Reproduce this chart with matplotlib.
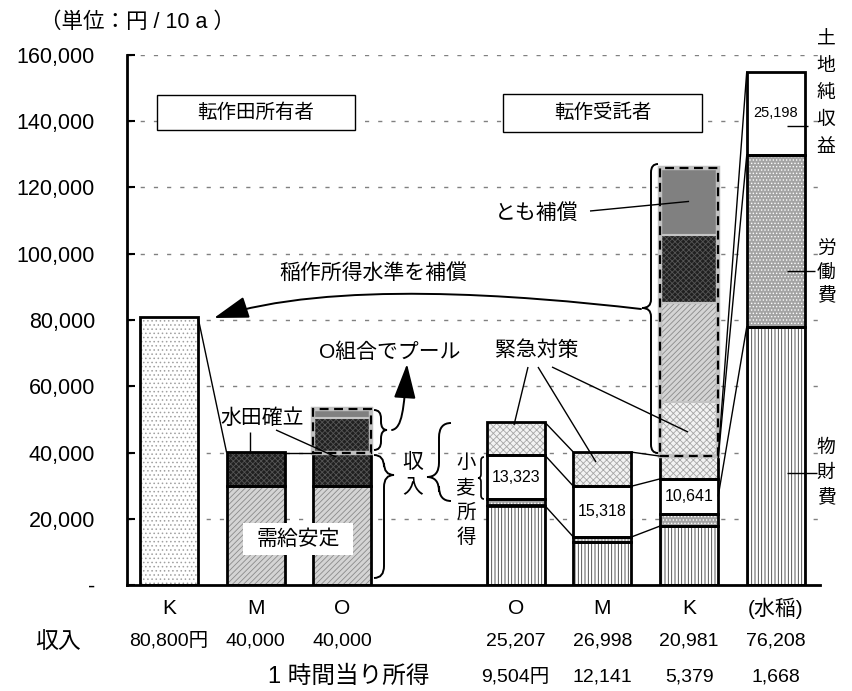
import matplotlib
matplotlib.use('Agg')
import matplotlib.pyplot as plt
from matplotlib.patches import Rectangle, FancyArrowPatch, PathPatch
from matplotlib.path import Path

plt.rcParams['font.family'] = ['Liberation Sans', 'Noto Sans CJK JP', 'DejaVu Sans']
plt.rcParams['hatch.linewidth'] = 0.6

# ---------------- data ----------------
categories = ['K', 'M', 'O', 'O', 'M', 'K', '(水稲)']
positions = [0, 1, 2, 4, 5, 6, 7]
income_labels = ['80,800円', '40,000', '40,000', '25,207', '26,998', '20,981', '76,208']
hourly_labels = ['9,504円', '12,141', '5,379', '1,668']
yticks = [0, 20000, 40000, 60000, 80000, 100000, 120000, 140000, 160000]
ytick_labels = ['-', '20,000', '40,000', '60,000', '80,000', '100,000', '120,000', '140,000', '160,000']

# 転作田所有者 (K, M, O)
owner_rice_level = [80800, 0, 0]
owner_jukyu = [0, 30000, 30000]
owner_suiden = [0, 10000, 10000]
pool_owner_suiden = 10500     # O組合でプール
pool_owner_tomo = 2500

# 転作受託者 (O, M, K) and 水稲
bussai = [24000, 13000, 17800, 77900]
roudou = [1900, 1500, 3600, 51900]
komugi = [13323, 15318, 10641, 0]
land = [0, 0, 0, 25198]
kinkyu = [9950, 10300, 6860, 0]
komugi_labels = ['13,323', '15,318', '10,641']
land_label = '25,198'
# amounts pooled to K (受託者)
pool_kinkyu = 16300
pool_jukyu = 30000
pool_suiden = 20500
pool_tomo = 20200

# ---------------- figure ----------------
W, H = 853, 691
fig = plt.figure(figsize=(W / 100, H / 100), dpi=100)
AX_L, AX_R, AX_T, AX_B = 127, 820, 55, 585
ax = fig.add_axes([AX_L / W, 1 - AX_B / H, (AX_R - AX_L) / W, (AX_B - AX_T) / H])
XMIN, XMAX = -0.484, 7.51
YMAX = 160000
ax.set_xlim(XMIN, XMAX)
ax.set_ylim(0, YMAX)

ov = fig.add_axes([0, 0, 1, 1])
ov.set_xlim(0, W)
ov.set_ylim(H, 0)
ov.axis('off')
ov.set_zorder(5)


def d2p(x, y):
    return (AX_L + (x - XMIN) / (XMAX - XMIN) * (AX_R - AX_L),
            AX_B - y / YMAX * (AX_B - AX_T))


BW = 0.67
ST = {
    'rice': dict(face='white', hatch='....', hc='#a0a0a0'),
    'jukyu': dict(face='#d4d4d4', hatch='//////', hc='#8a8a8a'),
    'suiden': dict(face='#202020', hatch='xxxxxx', hc='#555555'),
    'tomo': dict(face='#808080', hatch=None, hc='#808080'),
    'bussai': dict(face='white', hatch='|||||', hc='#3a3a3a'),
    'roudou': dict(face='#a4a4a4', hatch='.....', hc='#ffffff'),
    'komugi': dict(face='white', hatch=None, hc='white'),
    'kinkyu': dict(face='#f2f2f2', hatch='xxxxx', hc='#a6a6a6'),
}


def seg(x, bottom, height, style, edge='black', lw=2.0):
    s = ST[style]
    ax.bar(x, height, BW, bottom, color=s['face'], edgecolor=s['hc'],
           hatch=s['hatch'], linewidth=0, zorder=2)
    ax.bar(x, height, BW, bottom, fill=False, edgecolor=edge, linewidth=lw, zorder=3)


# owner bars
seg(positions[0], 0, owner_rice_level[0], 'rice')
for i in (1, 2):
    seg(positions[i], 0, owner_jukyu[i], 'jukyu')
    seg(positions[i], owner_jukyu[i], owner_suiden[i], 'suiden')
# O owner pooled part
b0 = owner_jukyu[2] + owner_suiden[2]
seg(positions[2], b0, pool_owner_suiden, 'suiden', edge='#c4c4c4', lw=1.5)
seg(positions[2], b0 + pool_owner_suiden, pool_owner_tomo, 'tomo', edge='#c4c4c4', lw=1.5)


def dashed_box(x, y0, y1):
    for kw in (dict(edgecolor='#c0c0c0', linewidth=3.2, linestyle='-'),
               dict(edgecolor='black', linewidth=1.6, linestyle=(0, (4, 2.5)))):
        ax.add_patch(Rectangle((x - BW / 2, y0), BW, y1 - y0, fill=False, zorder=4, **kw))


dashed_box(positions[2], b0, b0 + pool_owner_suiden + pool_owner_tomo)

# trustee + rice bars
tops = []
for j in range(4):
    x = positions[3 + j]
    b = 0
    seg(x, b, bussai[j], 'bussai'); b += bussai[j]
    seg(x, b, roudou[j], 'roudou'); b += roudou[j]
    if komugi[j]:
        seg(x, b, komugi[j], 'komugi'); b += komugi[j]
    if land[j]:
        seg(x, b, land[j], 'komugi'); b += land[j]
    if kinkyu[j]:
        seg(x, b, kinkyu[j], 'kinkyu'); b += kinkyu[j]
    tops.append(b)

# pooled part on K (受託者)
xk = positions[5]
b = tops[2]
kbox0 = b
for h, st in ((pool_kinkyu, 'kinkyu'), (pool_jukyu, 'jukyu'),
              (pool_suiden, 'suiden'), (pool_tomo, 'tomo')):
    seg(xk, b, h, st, edge='#c4c4c4', lw=1.5)
    b += h
kbox1 = b
dashed_box(xk, kbox0, kbox1)

# axes styling
ax.set_yticks(yticks)
ax.set_yticklabels(ytick_labels, fontsize=15.5)
ax.set_xticks([])
ax.tick_params(axis='y', direction='in', length=6, width=1.5, pad=23)
ax.yaxis.grid(True, color='#808080', linestyle=(0, (3, 6.5)), linewidth=1)
ax.set_axisbelow(True)
for sp in ('top', 'right'):
    ax.spines[sp].set_visible(False)
ax.spines['left'].set_linewidth(2)
ax.spines['bottom'].set_linewidth(2)

# ---------------- connector lines between bars ----------------
def line_px(p0, p1, lw=1.0, color='black'):
    ov.plot([p0[0], p1[0]], [p0[1], p1[1]], color=color, lw=lw, solid_capstyle='butt')


def conn(xa, ya, xb, yb):
    line_px(d2p(xa + BW / 2, ya), d2p(xb - BW / 2, yb))


conn(positions[0], owner_rice_level[0], positions[1], owner_jukyu[1] + owner_suiden[1])
conn(positions[1], owner_jukyu[1] + owner_suiden[1], positions[2], b0)
# trustee O -> M
conn(positions[3], tops[0], positions[4], tops[1])
conn(positions[3], bussai[0] + roudou[0] + komugi[0], positions[4], bussai[1] + roudou[1] + komugi[1])
conn(positions[3], bussai[0], positions[4], bussai[1] + roudou[1])
# M -> K
conn(positions[4], tops[1], positions[5], kbox0)
conn(positions[4], bussai[1] + roudou[1] + komugi[1], positions[5], bussai[2] + roudou[2] + komugi[2])
conn(positions[4], bussai[1] + roudou[1], positions[5], bussai[2])
# K -> 水稲
conn(positions[5], kbox0, positions[6], tops[3])
conn(positions[5], kbox0 - 800, positions[6], bussai[3] + roudou[3])
conn(positions[5], bussai[2] + roudou[2] + komugi[2] / 2, positions[6], bussai[3])

# ---------------- braces ----------------
def brace(x0, y0, y1, yt, h, ht, side, lw=1.4):
    s = side
    r = h * 1.2
    verts = [(x0 - s * h, y0), (x0, y0), (x0, y0 + r),
             (x0, yt - r), (x0, yt), (x0 + s * ht, yt),
             (x0, yt), (x0, yt + r),
             (x0, y1 - r), (x0, y1), (x0 - s * h, y1)]
    codes = [Path.MOVETO, Path.CURVE3, Path.CURVE3,
             Path.LINETO, Path.CURVE3, Path.CURVE3,
             Path.CURVE3, Path.CURVE3,
             Path.LINETO, Path.CURVE3, Path.CURVE3]
    ov.add_patch(PathPatch(Path(verts, codes), fill=False, edgecolor='black', lw=lw))


brace(651, 164, 453, 308, 7, 9, -1)
brace(381, 410, 450, 430, 7, 6, +1)
brace(384, 455, 578, 475, 10, 10, +1)
brace(439, 423, 501, 477, 12, 12, -1)
brace(481, 457, 499, 478, 3, 3, -1, lw=1.2)

# ---------------- arrows ----------------
p1 = Path([(641, 309), (520, 295), (330, 280), (214, 318)],
          [Path.MOVETO, Path.CURVE4, Path.CURVE4, Path.CURVE4])
ov.add_patch(FancyArrowPatch(path=p1, arrowstyle='-|>,head_length=1.2,head_width=0.38',
                             mutation_scale=18, color='black', lw=1.4))
p2 = Path([(392, 430), (402, 428), (404, 410), (407, 364)],
          [Path.MOVETO, Path.CURVE4, Path.CURVE4, Path.CURVE4])
ov.add_patch(FancyArrowPatch(path=p2, arrowstyle='-|>,head_length=1.2,head_width=0.38',
                             mutation_scale=18, color='black', lw=1.4))

# ---------------- texts ----------------
JP = dict(ha='center', va='center', color='black')
fig.text(40 / W, 1 - 22 / H, '（単位：円 / 10 a ）', fontsize=15.5, ha='left', va='center')

for (x0, y0, x1, y1, t) in ((157, 95, 355, 130, '転作田所有者'),
                            (503, 94, 702, 132, '転作受託者')):
    ov.add_patch(Rectangle((x0, y0), x1 - x0, y1 - y0, fill=True, facecolor='white',
                           edgecolor='black', lw=1.0, zorder=3))
    ov.text((x0 + x1) / 2, (y0 + y1) / 2, t, fontsize=14, zorder=4, **JP)

ov.text(373, 273, '稲作所得水準を補償', fontsize=15, **JP)
ov.text(537, 213, 'とも補償', fontsize=15, **JP)
line_px((590, 211), d2p(positions[5], kbox1 - pool_tomo / 2))
ov.text(390, 352, 'O組合でプール', fontsize=15, **JP)
ov.text(537, 350, '緊急対策', fontsize=15, **JP)
line_px((528, 367), (514, 425))
line_px((538, 367), (596, 462))
line_px((552, 367), (688, 432))
ov.text(262, 418, '水田確立', fontsize=15, **JP)
line_px((250, 432), (250, 452))
line_px((276, 430), (336, 457))
ov.add_patch(Rectangle((243, 523), 110, 32, facecolor='white', edgecolor='none', zorder=3))
ov.text(298, 539, '需給安定', fontsize=15, zorder=4, **JP)

for ch, yy in zip('収入', (462, 487)):
    ov.text(413, yy, ch, fontsize=15, **JP)
for ch, yy in zip('小麦所得', (463, 488, 513, 538)):
    ov.text(466, yy, ch, fontsize=14, **JP)

# values in bars
for j, lab in enumerate(komugi_labels):
    xx, yy = d2p(positions[3 + j], bussai[j] + roudou[j] + komugi[j] / 2)
    ov.text(xx, yy, lab, fontsize=11.5, **JP)
xx, yy = d2p(positions[6], bussai[3] + roudou[3] + land[3] / 2)
ov.text(xx, yy, land_label, fontsize=10.5, **JP)

# right-side labels
for ch, yy in zip('土地純収益', (40, 66, 93, 120, 147)):
    ov.text(826, yy, ch, fontsize=13.5, **JP)
line_px((787, 126), (808, 126))
for ch, yy in zip('労働費', (250, 273, 296)):
    ov.text(826, yy, ch, fontsize=13.5, **JP)
line_px((787, 271), (815, 271))
for ch, yy in zip('物財費', (448, 473, 498)):
    ov.text(826, yy, ch, fontsize=13.5, **JP)
line_px((787, 473), (817, 473))

# bottom rows
for p, c, inc in zip(positions, categories, income_labels):
    xx = d2p(p, 0)[0]
    ov.text(xx, 608, c, fontsize=15, **JP)
    ov.text(xx, 641, inc, fontsize=14, **JP)
ov.text(58, 641, '収入', fontsize=16.5, **JP)
ov.text(430, 677, '1 時間当り所得', fontsize=17, ha='right', va='center')
for p, hl in zip(positions[3:], hourly_labels):
    ov.text(d2p(p, 0)[0], 677, hl, fontsize=14, **JP)

fig.savefig('out.png', dpi=100)
